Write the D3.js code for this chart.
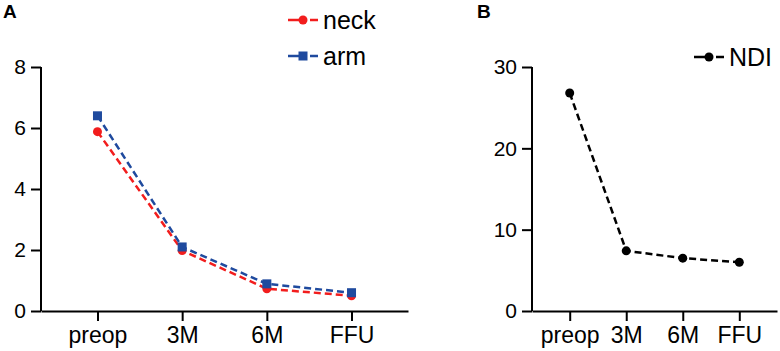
<!DOCTYPE html>
<html>
<head>
<meta charset="utf-8">
<script src="https://cdn.jsdelivr.net/npm/d3@7"></script>
<style>
  body { margin: 0; background: #fff; }
  svg text { font-family: "Liberation Sans", Arial, sans-serif; }
</style>
</head>
<body>
<div id="chart-area"></div>
<script>
/*
*    two panel line chart: VAS (neck/arm) and NDI
*/

var timepoints = ["preop", "3M", "6M", "FFU"];
var neckVAS = [5.88, 1.98, 0.73, 0.5];
var armVAS = [6.4, 2.1, 0.89, 0.6];
var ndiValues = [26.8, 7.4, 6.5, 6.0];
var ticksA = [0, 2, 4, 6, 8];
var ticksB = [0, 10, 20, 30];

var width = 780, height = 351;
var red = "#f21d1d", blue = "#1f4a9e";

var svg = d3.select("#chart-area").append("svg").attr("width", width).attr("height", height);

function drawPanel(opts) {
    var x = d3.scalePoint().domain(timepoints).range([opts.left, opts.right]).padding(0.667);
    var y = d3.scaleLinear().domain([0, opts.max]).range([311, 67]);

    var xAxis = d3.axisBottom(x).tickSize(10).tickSizeOuter(0).tickPadding(6);
    var gx = svg.append("g").attr("transform", "translate(0,311)").call(xAxis);
    var yAxis = d3.axisLeft(y).tickValues(opts.ticks).tickSize(10).tickSizeOuter(0).tickPadding(5);
    var gy = svg.append("g").attr("transform", "translate(" + opts.left + ",0)").call(yAxis);

    [gx, gy].forEach((g) => {
        g.selectAll("path, line").attr("stroke", "#000").attr("stroke-width", 2);
        g.selectAll("text").attr("fill", "#000")
            .style("font-family", "'Liberation Sans', Arial, sans-serif");
    });
    gx.selectAll("text").attr("font-size", "23px");
    gy.selectAll("text").attr("font-size", "21px");
    gy.select(".domain").attr("d", "M0," + y(opts.max) + "V" + y(0));

    var line = d3.line().x((d, i) => x(timepoints[i])).y((d) => y(d));

    opts.series.forEach((s) => {
        svg.append("path").datum(s.values).attr("d", line)
            .attr("fill", "none").attr("stroke", s.color).attr("stroke-width", 2.5)
            .attr("stroke-dasharray", "7,4");
        drawMarkers(s, s.values.map((v, i) => [x(timepoints[i]), y(v)]));

        // legend entry
        var lg = svg.append("g");
        lg.append("line").attr("x1", s.legX).attr("x2", s.legX + 30).attr("y1", s.legY).attr("y2", s.legY)
            .attr("stroke", s.color).attr("stroke-width", 2.5).attr("stroke-dasharray", "12,4,2,4");
        drawMarkers(s, [[s.legX + 15, s.legY]]);
        lg.append("text").attr("x", s.legX + 35).attr("y", s.legY).attr("dy", "0.35em")
            .attr("font-size", "25px").attr("fill", "#000").text(s.name);
    });

    svg.append("text").attr("x", opts.labelX).attr("y", 18).attr("font-size", "19px")
        .attr("font-weight", "bold").attr("fill", "#000").text(opts.label);
}

function drawMarkers(s, pts) {
    if (s.shape === "square") {
        svg.selectAll(null).data(pts).enter().append("rect")
            .attr("x", (d) => d[0] - 4.5).attr("y", (d) => d[1] - 4.5)
            .attr("width", 9).attr("height", 9).attr("fill", s.color);
    } else {
        svg.selectAll(null).data(pts).enter().append("circle")
            .attr("cx", (d) => d[0]).attr("cy", (d) => d[1]).attr("r", 4.5).attr("fill", s.color);
    }
}

drawPanel({
    left: 41, right: 408, max: 8, ticks: ticksA, label: "A", labelX: 3,
    series: [
        {name: "neck", values: neckVAS, color: red, shape: "circle", legX: 288, legY: 20},
        {name: "arm", values: armVAS, color: blue, shape: "square", legX: 288, legY: 56}
    ]
});

drawPanel({
    left: 532, right: 777, max: 30, ticks: ticksB, label: "B", labelX: 477,
    series: [
        {name: "NDI", values: ndiValues, color: "#000", shape: "circle", legX: 694, legY: 57}
    ]
});
</script>
</body>
</html>
